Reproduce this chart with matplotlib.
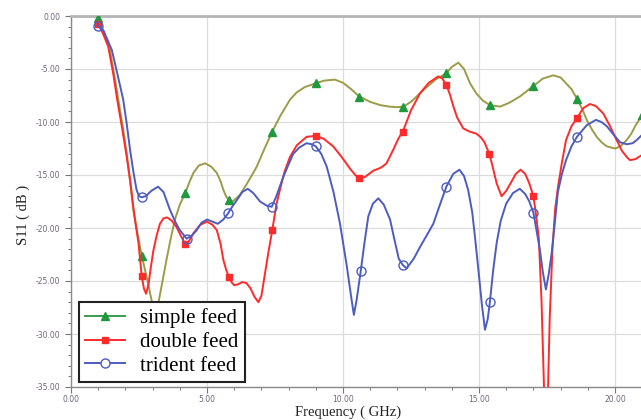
import numpy as np
import matplotlib
matplotlib.use("Agg")
import matplotlib.pyplot as plt
from matplotlib.lines import Line2D
from matplotlib.ticker import MultipleLocator, FormatStrFormatter

# ---------------- data ----------------
simple_f = [1.0, 1.2, 1.43, 1.6, 1.74, 1.9, 2.05, 2.2, 2.29, 2.45, 2.6, 2.78, 2.97, 3.1,
            3.21, 3.35, 3.51, 3.65, 3.82, 4.0, 4.2, 4.35, 4.5, 4.7, 4.93, 5.15, 5.36, 5.5,
            5.6, 5.7, 5.8, 5.95, 6.2, 6.45, 6.7, 6.83, 7.1, 7.4, 7.7, 8.05, 8.3, 8.6, 9.0,
            9.3, 9.7, 10.0, 10.3, 10.6, 11.0, 11.36, 11.7, 12.0, 12.22, 12.5, 12.95, 13.4,
            13.8, 14.0, 14.24, 14.45, 14.67, 14.9, 15.15, 15.4, 15.77, 16.1, 16.5, 17.0,
            17.35, 17.73, 18.0, 18.2, 18.4, 18.6, 18.8, 18.96, 19.15, 19.33, 19.5, 19.7,
            20.0, 20.2, 20.43, 20.6, 20.74, 21.0]
simple_s11 = [-0.2, -1.5, -3.2, -5.7, -7.9, -10.4, -13.0, -16.2, -18.3, -20.6, -22.6, -24.6,
              -26.9, -28.5, -27.1, -25.2, -23.0, -21.2, -19.2, -17.8, -16.7, -15.7, -14.8,
              -14.1, -13.9, -14.2, -14.8, -15.6, -16.4, -17.0, -17.4, -17.5, -16.9, -15.9,
              -14.8, -14.2, -12.6, -10.9, -9.4, -7.9, -7.2, -6.7, -6.35, -6.1, -6.0, -6.3,
              -6.9, -7.6, -8.1, -8.4, -8.55, -8.6, -8.55, -8.1, -7.0, -6.0, -5.4, -4.8,
              -4.4, -5.0, -6.35, -7.3, -8.0, -8.4, -8.55, -8.2, -7.6, -6.6, -5.9, -5.6,
              -5.8, -6.35, -6.9, -7.8, -8.8, -9.8, -10.7, -11.4, -11.9, -12.3, -12.5,
              -12.3, -11.7, -11.1, -10.4, -9.3]

double_f = [1.0, 1.2, 1.37, 1.55, 1.7, 1.88, 2.05, 2.18, 2.29, 2.38, 2.48, 2.6, 2.68, 2.76,
            2.85, 2.93, 3.03, 3.15, 3.27, 3.4, 3.53, 3.7, 3.88, 4.05, 4.2, 4.3, 4.5, 4.75,
            5.0, 5.2, 5.36, 5.5, 5.6, 5.7, 5.8, 5.9, 6.0, 6.15, 6.3, 6.45, 6.6, 6.75, 6.89,
            7.0, 7.1, 7.25, 7.4, 7.55, 7.68, 7.85, 8.05, 8.3, 8.66, 9.0, 9.3, 9.64, 9.95,
            10.26, 10.45, 10.6, 10.8, 11.11, 11.4, 11.6, 11.85, 12.05, 12.2, 12.5, 12.83,
            13.15, 13.5, 13.65, 13.8, 13.93, 14.06, 14.2, 14.42, 14.65, 14.9, 15.05, 15.2,
            15.38, 15.5, 15.65, 15.83, 16.0, 16.2, 16.35, 16.53, 16.7, 16.85, 17.0, 17.1,
            17.2, 17.3, 17.4, 17.47, 17.53, 17.6, 17.7, 17.8, 17.9, 18.05, 18.2, 18.4, 18.6,
            18.83, 19.08, 19.3, 19.57, 19.8, 20.06, 20.25, 20.43, 20.55, 20.75, 21.0]
double_s11 = [-0.75, -1.8, -2.9, -5.4, -7.9, -10.6, -13.3, -15.6, -18.0, -19.7, -21.4, -24.5,
              -25.7, -26.2, -25.3, -23.8, -22.1, -20.7, -19.6, -19.1, -19.0, -19.3, -19.9,
              -20.8, -21.5, -21.4, -20.5, -19.7, -19.4, -19.7, -20.2, -21.5, -23.0, -23.9,
              -24.6, -25.1, -25.4, -25.3, -25.1, -25.2, -25.7, -26.5, -27.0, -26.4, -24.8,
              -22.4, -20.2, -17.8, -16.4, -14.7, -13.3, -12.2, -11.4, -11.3, -11.6, -12.3,
              -13.3, -14.4, -15.0, -15.3, -15.2, -14.6, -14.3, -13.9, -12.6, -11.5, -10.9,
              -8.9, -7.3, -6.3, -5.7, -5.9, -6.5, -7.4, -8.55, -9.6, -10.6, -10.9, -11.1,
              -11.4, -11.9, -13.0, -14.2, -15.8, -17.0, -16.5, -15.6, -14.9, -14.5, -14.9,
              -15.8, -17.0, -18.8, -21.0, -27.0, -36.0, -48.0, -36.0, -28.5, -22.0, -18.2,
              -16.2, -13.8, -11.7, -10.4, -9.65, -8.7, -8.3, -8.5, -9.2, -10.3, -11.7, -12.7,
              -13.3, -13.6, -13.5, -13.1]

trident_f = [1.0, 1.2, 1.5, 1.7, 1.92, 2.05, 2.17, 2.3, 2.41, 2.5, 2.6, 2.75, 2.95, 3.2,
             3.4, 3.64, 3.85, 4.0, 4.25, 4.45, 4.62, 4.8, 5.0, 5.2, 5.4, 5.6, 5.78, 5.95,
             6.09, 6.3, 6.5, 6.7, 6.95, 7.2, 7.38, 7.55, 7.8, 8.0, 8.17, 8.4, 8.66, 8.85,
             9.0, 9.2, 9.4, 9.65, 9.89, 10.14, 10.3, 10.4, 10.5, 10.65, 10.8, 10.93, 11.1,
             11.3, 11.5, 11.73, 11.9, 12.05, 12.2, 12.34, 12.6, 12.83, 13.1, 13.32, 13.55,
             13.8, 14.05, 14.28, 14.45, 14.6, 14.75, 14.85, 15.0, 15.1, 15.22, 15.32, 15.4,
             15.52, 15.65, 15.8, 16.0, 16.25, 16.5, 16.7, 16.85, 17.0, 17.12, 17.24, 17.35,
             17.46, 17.56, 17.67, 17.8, 17.9, 18.05, 18.2, 18.4, 18.6, 18.96, 19.3, 19.5,
             19.7, 19.95, 20.18, 20.43, 20.65, 20.8, 21.0]
trident_s11 = [-0.9, -1.4, -3.2, -5.4, -7.9, -10.2, -12.6, -14.8, -16.4, -17.0, -17.1, -17.0,
               -16.5, -16.1, -16.6, -18.3, -19.5, -20.2, -21.0, -20.7, -20.2, -19.5, -19.2,
               -19.4, -19.6, -19.2, -18.6, -17.9, -17.4, -16.6, -16.3, -16.7, -17.5, -17.9,
               -18.0, -17.0, -15.2, -14.0, -13.0, -12.4, -12.0, -12.1, -12.3, -13.0, -14.2,
               -16.6, -19.6, -23.6, -26.5, -28.2, -26.8, -24.1, -21.2, -18.9, -17.7, -17.2,
               -17.8, -19.2, -21.2, -22.9, -23.5, -23.8, -22.9, -21.8, -20.6, -19.6, -17.9,
               -16.1, -14.9, -14.5, -15.1, -16.4, -18.5, -20.8, -24.5, -27.1, -29.6, -28.6,
               -27.0, -24.0, -21.4, -19.3, -17.7, -16.7, -16.3, -16.8, -17.5, -18.55, -20.3,
               -22.1, -24.2, -25.8, -24.4, -22.4, -19.2, -16.6, -14.9, -13.6, -12.3, -11.4,
               -10.3, -9.8, -10.0, -10.4, -11.2, -11.9, -12.1, -12.0, -11.7, -11.2]

marker_freqs = [1.0, 2.6, 4.2, 5.8, 7.4, 9.0, 10.6, 12.2, 13.8, 15.4, 17.0, 18.6]
simple_extra_marker = [21.0]

x_ticks = [0, 5, 10, 15, 20]
y_ticks = [0, -5, -10, -15, -20, -25, -30, -35]
labels = ["simple feed", "double feed", "trident feed"]


def mark_idx(freqs, targets):
    f = np.asarray(freqs)
    return sorted({int(np.argmin(np.abs(f - t))) for t in targets})


# ---------------- figure ----------------
W, H = 641, 420
fig = plt.figure(figsize=(W / 100, H / 100), dpi=100)
L, R, T, B = 71, 641, 16, 387
ax = fig.add_axes([L / W, 1 - B / H, (R - L) / W, (B - T) / H])

olive = "#9c9c48"
green = "#1e9a3c"
red = "#ff2a2a"
blue = "#4c5cc0"

ax.plot(simple_f, simple_s11, color=olive, lw=1.4, zorder=3,
        marker="^", ms=5.5, mfc=green, mec=green,
        markevery=mark_idx(simple_f, marker_freqs + simple_extra_marker))
ax.plot(double_f, double_s11, color=red, lw=1.4, zorder=4,
        marker="s", ms=4, mfc=red, mec=red,
        markevery=mark_idx(double_f, marker_freqs))
ax.plot(trident_f, trident_s11, color=blue, lw=1.4, zorder=5,
        marker="o", ms=6.5, mfc="none", mec=blue, mew=1.0,
        markevery=mark_idx(trident_f, marker_freqs))

ax.set_xlim(0, (R - L) / 27.2)
ax.set_ylim(-35, 0)
ax.set_xticks(x_ticks)
ax.set_yticks(y_ticks)
ax.xaxis.set_minor_locator(MultipleLocator(1))
ax.yaxis.set_minor_locator(MultipleLocator(1))
ax.xaxis.set_major_formatter(FormatStrFormatter("%.2f"))
ax.yaxis.set_major_formatter(FormatStrFormatter("%.2f"))
ax.grid(True, which="major", color="#dcdcdc", lw=0.9, zorder=0)
ax.set_axisbelow(True)

ax.tick_params(which="major", direction="out", length=4.5, width=0.8, color="#777777",
               labelsize=5.5, labelcolor="#6e6478", pad=3)
ax.tick_params(axis="x", which="major", pad=1.5)
ax.tick_params(which="minor", direction="out", length=2.2, width=0.7, color="#777777")

ax.spines["right"].set_visible(False)
ax.spines["top"].set_color("#b4b4b4")
ax.spines["top"].set_linewidth(2.0)
for s in ("left", "bottom"):
    ax.spines[s].set_color("#8a8a8a")
    ax.spines[s].set_linewidth(1.0)

serif = ["Liberation Serif", "DejaVu Serif"]
ax.set_xlabel("Frequency ( GHz)", family=serif, fontsize=10.5, color="#222222")
ax.set_ylabel("S11 ( dB )", family=serif, fontsize=10.5, color="#222222")
ax.xaxis.label.set_va("center")
ax.yaxis.label.set_va("center")
ax.xaxis.set_label_coords(0.5 - 8 / (R - L), -(412 - B) / (B - T))
ax.yaxis.set_label_coords(-(L - 23) / (R - L), (B - 215) / (B - T))

handles = [
    Line2D([], [], color="#3a9a50", lw=1.4, marker="^", ms=5.5, mfc=green, mec=green),
    Line2D([], [], color=red, lw=1.4, marker="s", ms=4.5, mfc=red, mec=red),
    Line2D([], [], color=blue, lw=1.4, marker="o", ms=6.5, mfc="white", mec=blue),
]
leg = ax.legend(handles, labels, loc="lower left",
                bbox_to_anchor=((79 - L) / (R - L), (B - 382) / (B - T)),
                prop={"family": serif, "size": 15}, frameon=True, fancybox=False,
                framealpha=1, edgecolor="#222222", handlelength=1.9,
                handletextpad=0.75, labelspacing=0.2, borderpad=0.3,
                borderaxespad=0)
leg.get_frame().set_linewidth(1.5)
leg.set_zorder(10)

fig.savefig("out.png", dpi=100)
